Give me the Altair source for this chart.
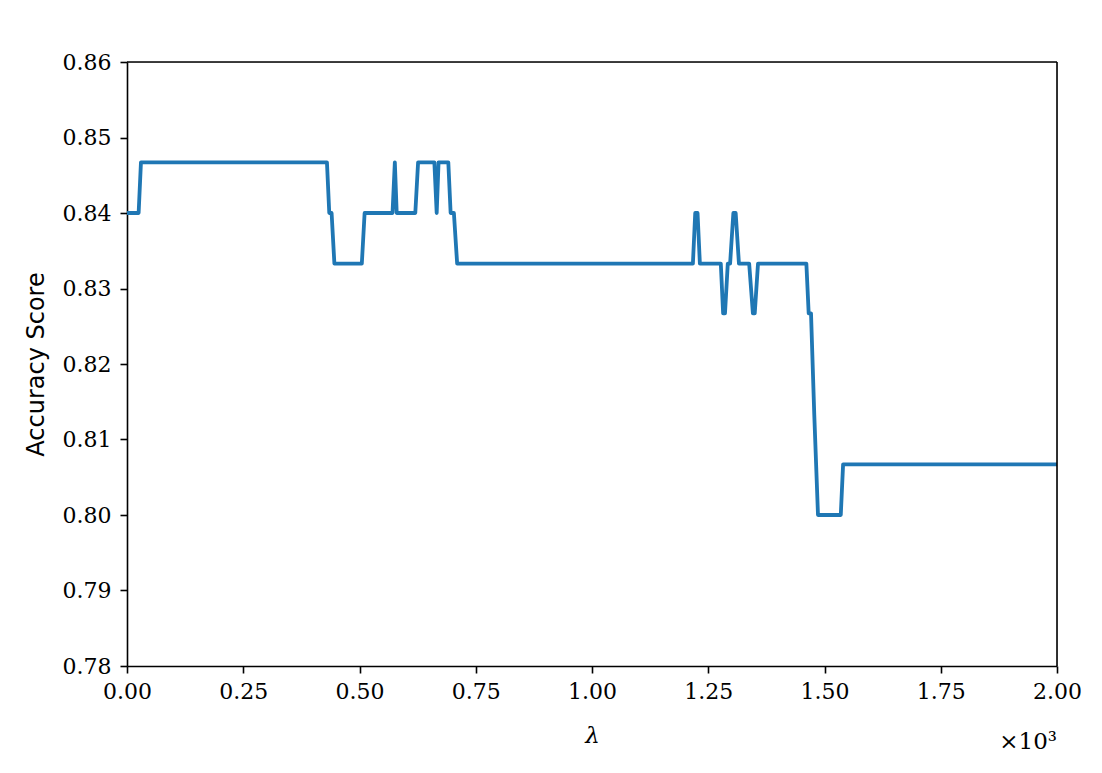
import altair as alt
import pandas as pd

lam = [0, 25, 30, 430, 435, 440, 446, 505, 511, 571, 576, 580, 620, 626, 661, 666, 670,
       691, 696, 703, 710, 1217, 1222, 1227, 1232, 1277, 1282, 1286, 1292, 1297, 1304,
       1309, 1316, 1338, 1346, 1350, 1357, 1461, 1466, 1471, 1478, 1486, 1535, 1540, 2000]
acc = [0.84, 0.84, 0.8467, 0.8467, 0.84, 0.84, 0.8333, 0.8333, 0.84, 0.84, 0.8467, 0.84,
       0.84, 0.8467, 0.8467, 0.84, 0.8467, 0.8467, 0.84, 0.84, 0.8333, 0.8333, 0.84, 0.84,
       0.8333, 0.8333, 0.8267, 0.8267, 0.8333, 0.8333, 0.84, 0.84, 0.8333, 0.8333, 0.8267,
       0.8267, 0.8333, 0.8333, 0.8267, 0.8267, 0.8133, 0.80, 0.80, 0.8067, 0.8067]

x_ticks = [0, 250, 500, 750, 1000, 1250, 1500, 1750, 2000]
y_ticks = [0.78, 0.79, 0.80, 0.81, 0.82, 0.83, 0.84, 0.85, 0.86]

df = pd.DataFrame({"lam": lam, "acc": acc})

SERIF = "DejaVu Serif"
SANS = "DejaVu Sans"

line = alt.Chart(df).mark_line(color="#1f77b4", strokeWidth=3.8, strokeJoin="round",
                               clip=True).encode(
    x=alt.X("lam:Q", scale=alt.Scale(domain=[0, 2000], nice=False, zero=False),
            axis=alt.Axis(values=x_ticks, labelExpr="format(datum.value/1000, '.2f')",
                          labelFlush=False, labelOverlap=False,
                          title="λ", titleFont=SERIF, titleFontStyle="italic",
                          titleFontWeight="normal", titleFontSize=23, titlePadding=22,
                          grid=False, labelFont=SERIF, labelFontSize=22, labelColor="black",
                          tickColor="black", tickSize=7, tickWidth=1.6, domainColor="black",
                          domainWidth=1.6, labelPadding=8, titleColor="black")),
    y=alt.Y("acc:Q", scale=alt.Scale(domain=[0.78, 0.86], nice=False, zero=False),
            axis=alt.Axis(values=y_ticks, format=".2f", title="Accuracy Score",
                          labelFlush=False, labelOverlap=False,
                          titleFont=SANS, titleFontWeight="normal", titleFontSize=24,
                          titlePadding=14, grid=False, labelFont=SERIF, labelFontSize=22,
                          labelColor="black", tickColor="black", tickSize=7, tickWidth=1.6,
                          domainColor="black", domainWidth=1.6, labelPadding=9,
                          titleColor="black")),
)

top_rule = alt.Chart(pd.DataFrame({"k": [0]})).mark_rule(color="black", strokeWidth=1.6).encode(
    x=alt.value(0), x2=alt.value(930), y=alt.value(0))
right_rule = alt.Chart(pd.DataFrame({"k": [0]})).mark_rule(color="black", strokeWidth=1.6).encode(
    x=alt.value(930), y=alt.value(0), y2=alt.value(604))

offset = alt.Chart(pd.DataFrame({"t": ["×10³"]})).mark_text(
    font=SERIF, fontSize=23, align="right", baseline="alphabetic", color="black"
).encode(x=alt.value(930), y=alt.value(687), text="t:N")

chart = alt.layer(line, top_rule, right_rule, offset).properties(
    width=930, height=604, autosize=alt.AutoSizeParams(type="none"),
    padding={"left": 119, "top": 54, "right": 37, "bottom": 99},
).configure_view(stroke=None).configure(background="white")

chart.save("out.html", embed_options={"renderer": "svg", "actions": False})
